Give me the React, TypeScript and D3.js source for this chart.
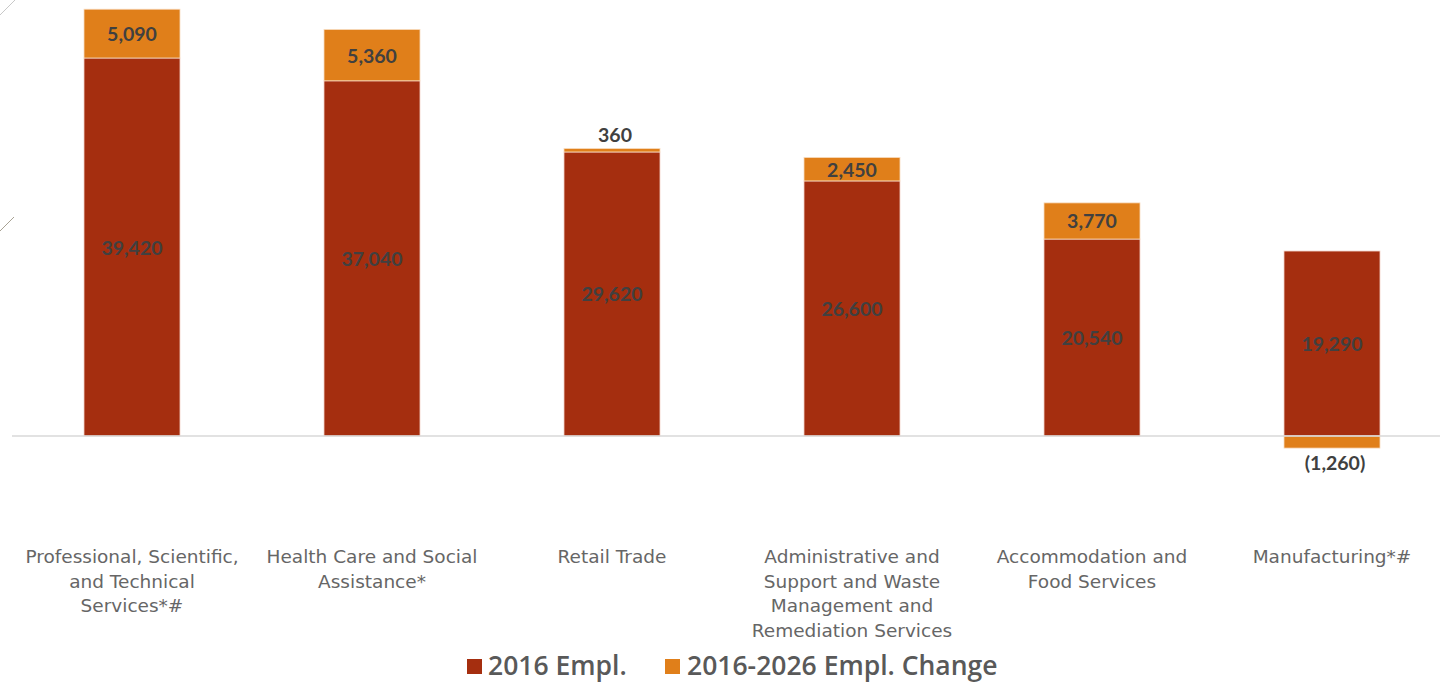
import React from "react";
import * as d3 from "d3";

const categories = [
  ["Professional, Scientific,", "and Technical", "Services*#"],
  ["Health Care and Social", "Assistance*"],
  ["Retail Trade"],
  ["Administrative and", "Support and Waste", "Management and", "Remediation Services"],
  ["Accommodation and", "Food Services"],
  ["Manufacturing*#"],
];
const empl2016 = [39420, 37040, 29620, 26600, 20540, 19290];
const emplChange = [5090, 5360, 360, 2450, 3770, -1260];
const legendLabels = ["2016 Empl.", "2016-2026 Empl. Change"];

const RED = "#A52E0F";
const ORANGE = "#E07F1A";
const fmt = d3.format(",");
const fmtVal = (v: number) => (v < 0 ? `(${fmt(-v)})` : fmt(v));

const App = () => {
  const width = 1440;
  const height = 684;
  const baseY = 436;

  const x = d3
    .scaleBand<number>()
    .domain(d3.range(categories.length))
    .range([12, 1452])
    .paddingInner(0.6)
    .paddingOuter(0.3);

  const y = d3.scaleLinear().domain([0, 39420]).range([baseY, 58]);

  return (
    <svg
      width={width}
      height={height}
      style={{ position: "absolute", left: 0, top: 0, background: "#fff" }}
    >
      {/* decorative corner strokes */}
      <line x1={0} y1={15} x2={15} y2={0} stroke="#c8c8c8" strokeWidth={1} />
      <line x1={0} y1={231} x2={14} y2={217} stroke="#a8a294" strokeWidth={1} />

      {/* Bars */}
      {empl2016.map((v, i) => {
        const c = emplChange[i];
        const bx = x(i)!;
        const bw = x.bandwidth();
        const top = y(v);
        const cTop = c >= 0 ? y(v + c) : y(0);
        const cBot = c >= 0 ? y(v) : y(c);
        const cMid = (cTop + cBot) / 2;
        const bigEnough = Math.abs(cBot - cTop) > 18;
        let cLabelY = cMid;
        if (!bigEnough) cLabelY = c >= 0 ? cTop - 14 : cBot + 14;
        return (
          <g key={i}>
            <rect
              x={bx}
              y={top}
              width={bw}
              height={baseY - top}
              fill={RED}
              stroke="#f2d3c8"
              strokeWidth={0.8}
            />
            <rect
              x={bx}
              y={cTop}
              width={bw}
              height={cBot - cTop}
              fill={ORANGE}
              stroke="#f8dcc0"
              strokeWidth={0.8}
            />
            <text
              x={bx + bw / 2}
              y={(top + baseY) / 2}
              textAnchor="middle"
              dominantBaseline="central"
              fill="#404040"
              fontFamily="Lato, sans-serif"
              fontWeight="bold"
              fontSize="19.5px"
            >
              {fmtVal(v)}
            </text>
            <text
              x={bx + bw / 2 + (bigEnough ? 0 : 3)}
              y={cLabelY}
              textAnchor="middle"
              dominantBaseline="central"
              fill="#404040"
              fontFamily="Lato, sans-serif"
              fontWeight="bold"
              fontSize="19.5px"
            >
              {fmtVal(c)}
            </text>
          </g>
        );
      })}

      {/* baseline */}
      <line x1={12} x2={1440} y1={baseY} y2={baseY} stroke="#d9d9d9" strokeWidth={1.5} />

      {/* Category labels */}
      {categories.map((lines, i) => (
        <text
          key={i}
          x={x(i)! + x.bandwidth() / 2}
          y={563}
          textAnchor="middle"
          fill="#666666"
          fontFamily="'DejaVu Sans', sans-serif"
          fontSize="18.5px"
        >
          {lines.map((l, j) => (
            <tspan key={j} x={x(i)! + x.bandwidth() / 2} dy={j === 0 ? 0 : 24.5}>
              {l}
            </tspan>
          ))}
        </text>
      ))}

      {/* Legend */}
      <g fontFamily="'Open Sans', sans-serif" fontWeight="600" fontSize="26.5px" fill="#595959">
        <rect x={467} y={659} width={15} height={15} fill={RED} />
        <text x={488} y={675}>{legendLabels[0]}</text>
        <rect x={665} y={659} width={15} height={15} fill={ORANGE} />
        <text x={687} y={675}>{legendLabels[1]}</text>
      </g>
    </svg>
  );
};

export default App;
